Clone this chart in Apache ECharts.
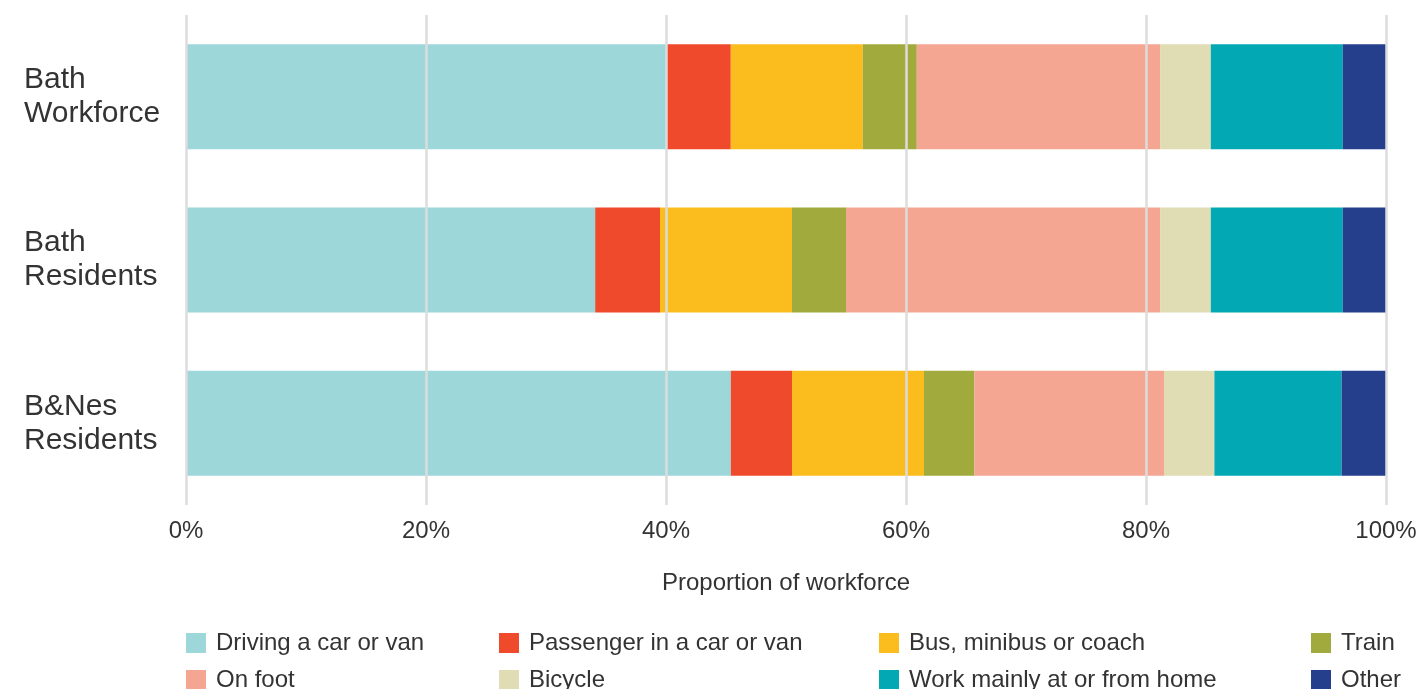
<!DOCTYPE html>
<html>
<head>
<meta charset="utf-8">
<script src="https://cdn.jsdelivr.net/npm/echarts@6/dist/echarts.min.js"></script>
<style>
html,body{margin:0;padding:0;background:#fff;}
#chart{width:1420px;height:689px;}
</style>
</head>
<body>
<div id="chart"></div>
<script>
const categories = ['Bath\nWorkforce', 'Bath\nResidents', 'B&Nes\nResidents'];
const seriesNames = ['Driving a car or van', 'Passenger in a car or van', 'Bus, minibus or coach', 'Train', 'On foot', 'Bicycle', 'Work mainly at or from home', 'Other'];
const driving   = [40.0, 34.1, 45.4];
const passenger = [5.4, 5.4, 5.1];
const bus       = [11.0, 11.0, 11.0];
const train     = [4.5, 4.5, 4.2];
const onFoot    = [20.3, 26.2, 15.8];
const bicycle   = [4.2, 4.2, 4.2];
const home      = [11.0, 11.0, 10.6];
const other     = [3.6, 3.6, 3.7];
const xTicks = [0, 20, 40, 60, 80, 100];

const colors = ['#9DD7DA', '#EF4A2B', '#FBBD1E', '#A1AA3D', '#F4A693', '#E0DDB5', '#02A9B5', '#263F8C'];
const values = [driving, passenger, bus, train, onFoot, bicycle, home, other];

const chart = echarts.init(document.getElementById('chart'));
const font = 'Liberation Sans, Arial, sans-serif';
const legendCols = [[0, 4], [1, 5], [2, 6], [3, 7]];
const legendX = [181, 494, 874, 1306];

chart.setOption({
  animation: false,
  color: colors,
  grid: { left: 186, right: 34, top: 15, bottom: 184 },
  xAxis: {
    type: 'value', min: xTicks[0], max: xTicks[xTicks.length - 1], interval: 20,
    z: 5,
    name: 'Proportion of workforce', nameLocation: 'middle', nameGap: 66,
    nameTextStyle: { fontFamily: font, fontSize: 24, color: '#333' },
    axisLine: { show: false }, axisTick: { show: false },
    axisLabel: { formatter: '{value}%', fontFamily: font, fontSize: 24, color: '#333', margin: 14 },
    splitLine: { show: true, lineStyle: { color: '#DCDCDC', width: 2.5 } }
  },
  yAxis: {
    type: 'category', data: categories, inverse: true,
    axisLine: { show: false }, axisTick: { show: false },
    axisLabel: { align: 'left', margin: 162, fontFamily: font, fontSize: 30, lineHeight: 34, color: '#333', padding: [6, 0, 0, 0] }
  },
  legend: legendCols.map((idx, i) => ({
    orient: 'vertical', left: legendX[i], top: 626, height: 120,
    data: idx.map(k => seriesNames[k]),
    itemWidth: 20, itemHeight: 20, itemGap: 13, icon: 'rect',
    textStyle: { fontFamily: font, fontSize: 24, color: '#333', lineHeight: 24, padding: [0, 0, 0, 5] }
  })),
  series: seriesNames.map((n, i) => ({
    name: n, type: 'bar', stack: 'total', data: values[i],
    barWidth: 105, itemStyle: { color: colors[i] }
  }))
});
</script>
</body>
</html>
